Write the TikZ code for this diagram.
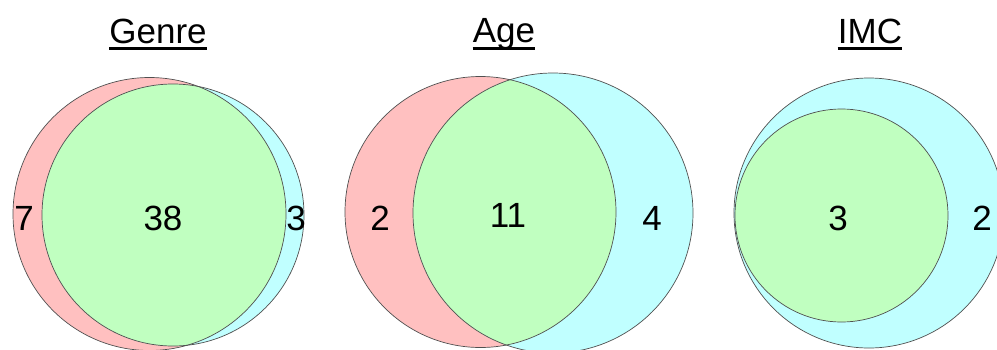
\documentclass[tikz,border=0pt]{standalone}
\usepackage{fontspec}
\setmainfont{Liberation Sans}
\definecolor{vpink}{HTML}{FFC0C0}
\definecolor{vcyan}{HTML}{C0FFFF}
\definecolor{vgreen}{HTML}{C0FFC0}
\definecolor{vline}{HTML}{505050}
\begin{document}
\begin{tikzpicture}[x=1pt,y=-1pt,
  outline/.style={draw=vline,line width=0.7pt},
  num/.style={font=\fontsize{35}{40}\selectfont,inner sep=0pt,anchor=center},
  ttl/.style={font=\fontsize{35}{40}\selectfont,inner sep=0pt,anchor=base},
  uline/.style={line width=2.2pt}]
\useasboundingbox (0,0) rectangle (997,349);
% ---- Genre ----
\fill[vpink] (149.5,214) circle (136.5);
\fill[vcyan] (173,215) circle (131);
\begin{scope}
  \clip (149.5,214) circle (136.5);
  \fill[vgreen] (173,215) circle (131);
\end{scope}
\draw[outline] (149.5,214) circle (136.5);
\draw[outline] (173,215) circle (131);
\node[ttl] (tg) at (158,43) {Genre};
\draw[uline] (tg.south west |- 0,48.5) coordinate (ug1) -- (tg.south east |- 0,48.5) coordinate (ug2);
\node[num] (g1) at (24,218) {7};
\node[num] (g2) at (163,218) {38};
\node[num] (g3) at (296,218) {3};
% ---- Age ----
\fill[vpink] (480.5,212) circle (135.5);
\fill[vcyan] (553,213) circle (140);
\begin{scope}
  \clip (480.5,212) circle (135.5);
  \fill[vgreen] (553,213) circle (140);
\end{scope}
\draw[outline] (480.5,212) circle (135.5);
\draw[outline] (553,213) circle (140);
\node[ttl] (ta) at (504,42) {Age};
\draw[uline] (ta.west |- 0,48.5) coordinate (ua1) -- (ta.east |- 0,48.5) coordinate (ua2);
\node[num] (a1) at (380,218) {2};
\node[num] (a2) at (508,215) {11};
\node[num] (a3) at (652,218) {4};
% ---- IMC ----
\fill[vcyan] (869,213) circle (135);
\fill[vgreen] (841.5,215.5) circle (106.5);
\draw[outline] (869,213) circle (135);
\draw[outline] (841.5,215.5) circle (106.5);
\node[ttl] (ti) at (870,43) {IMC};
\draw[uline] (ti.west |- 0,48.5) coordinate (ui1) -- (ti.east |- 0,48.5) coordinate (ui2);
\node[num] (i1) at (838,218) {3};
\node[num] (i2) at (982,218) {2};
\end{tikzpicture}
\end{document}
